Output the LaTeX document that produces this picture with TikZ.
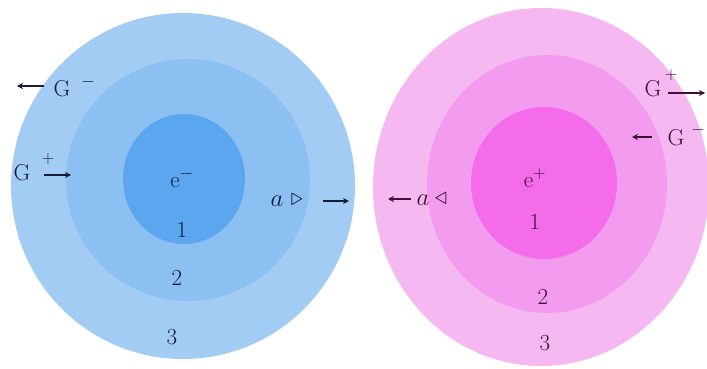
\documentclass[tikz,border=0pt]{standalone}
\usepackage{tikz}
\usetikzlibrary{arrows.meta,shapes.geometric}

\definecolor{blueout}{HTML}{A3CCF5}
\definecolor{bluemid}{HTML}{8DC0F2}
\definecolor{bluein}{HTML}{5BA6EE}
\definecolor{pinkout}{HTML}{F6B8F1}
\definecolor{pinkmid}{HTML}{F39BEE}
\definecolor{pinkin}{HTML}{F56CEB}
\definecolor{inkblue}{HTML}{141C36}
\definecolor{inkpink}{HTML}{3A1232}

\begin{document}
\begin{tikzpicture}[
  x=1pt, y=-1pt,
  shell/.style={ellipse, draw=none, inner sep=0pt},
  lbl/.style={inner sep=0pt, font=\fontsize{23}{26}\selectfont},
  sgn/.style={inner sep=0pt, font=\fontsize{17}{20}\selectfont},
  tri/.style={inner sep=0pt, font=\fontsize{26}{28}\selectfont},
  move/.style={-{Stealth[length=6pt,width=6pt]}, line width=1.6pt},
  >=Stealth
]
  \useasboundingbox (0,0) rectangle (707,369);
  \fill[white] (0,0) rectangle (707,369);

  % electron atom
  \node[shell, fill=blueout, minimum width=344, minimum height=346] (b3) at (183,186) {};
  \node[shell, fill=bluemid, minimum width=244, minimum height=242] (b2) at (188,180) {};
  \node[shell, fill=bluein, minimum width=122, minimum height=130] (b1) at (184,179) {};

  % positron atom
  \node[shell, fill=pinkout, minimum width=336, minimum height=358] (p3) at (541,187) {};
  \node[shell, fill=pinkmid, minimum width=240, minimum height=258] (p2) at (547,184) {};
  \node[shell, fill=pinkin, minimum width=146, minimum height=152] (p1) at (544,183) {};

  % shell numbers
  \begin{scope}[text=inkblue]
    \node[lbl] (be) at (182,178) {e$^{-}$};
    \node[lbl] (bn1) at (182,230) {1};
    \node[lbl] (bn2) at (177,278) {2};
    \node[lbl] (bn3) at (172,337) {3};
  \end{scope}
  \begin{scope}[text=inkpink]
    \node[lbl] (pe) at (535,178) {e$^{+}$};
    \node[lbl] (pn1) at (535,222) {1};
    \node[lbl] (pn2) at (543,297) {2};
    \node[lbl] (pn3) at (545,343) {3};
  \end{scope}

  % left side labels
  \begin{scope}[inkblue]
    \node[lbl] (gl1) at (62,89) {G};
    \node[sgn] at (88,82) {$-$};
    \coordinate (gl1a) at (44,86);
    \coordinate (gl1b) at (17,86);
    \draw[move] (gl1a) -- (gl1b);

    \node[lbl] (gl2) at (22,173) {G};
    \node[sgn] at (48,159) {$+$};
    \coordinate (gl2a) at (44,175);
    \coordinate (gl2b) at (71,175);
    \draw[move] (gl2a) -- (gl2b);

    \node[lbl] (al) at (277,201) {$a$};
    \node[tri] (alt) at (297,200) {$\triangleright$};
    \coordinate (ala) at (323,201);
    \coordinate (alb) at (349,201);
    \draw[move] (ala) -- (alb);
  \end{scope}

  % right side labels
  \begin{scope}[inkpink]
    \coordinate (ara) at (411,199);
    \coordinate (arb) at (388,199);
    \draw[move] (ara) -- (arb);
    \node[lbl] (ar) at (423,200) {$a$};
    \node[tri] (art) at (441,199) {$\triangleleft$};

    \node[lbl] (gr1) at (653,89) {G};
    \node[sgn] at (671,75) {$+$};
    \coordinate (gr1a) at (668,93);
    \coordinate (gr1b) at (705,93);
    \draw[move] (gr1a) -- (gr1b);

    \coordinate (gr2a) at (652,137);
    \coordinate (gr2b) at (632,137);
    \draw[move] (gr2a) -- (gr2b);
    \node[lbl] (gr2) at (676,138) {G};
    \node[sgn] at (698,130) {$-$};
  \end{scope}
\end{tikzpicture}
\end{document}
